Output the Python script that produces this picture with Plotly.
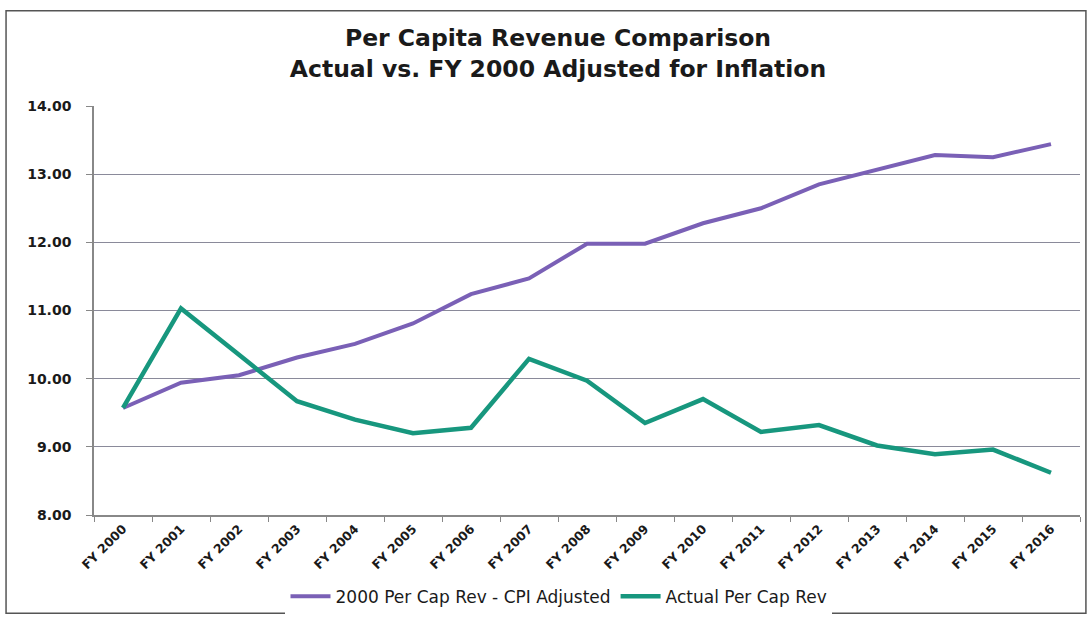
import plotly.graph_objects as go

years = ["FY 2000", "FY 2001", "FY 2002", "FY 2003", "FY 2004", "FY 2005", "FY 2006",
         "FY 2007", "FY 2008", "FY 2009", "FY 2010", "FY 2011", "FY 2012", "FY 2013",
         "FY 2014", "FY 2015", "FY 2016"]
cpi_adjusted = [9.57, 9.94, 10.05, 10.31, 10.51, 10.81, 11.24, 11.47, 11.98, 11.98,
                12.28, 12.50, 12.85, 13.06, 13.28, 13.25, 13.44]
actual = [9.57, 11.03, 10.35, 9.67, 9.40, 9.20, 9.28, 10.29, 9.97, 9.35,
          9.70, 9.22, 9.32, 9.02, 8.89, 8.96, 8.62]

PURPLE = "#7a60b6"
GREEN = "#17977e"
FONT = "DejaVu Sans"

fig = go.Figure()
fig.add_trace(go.Scatter(x=years, y=cpi_adjusted, mode="lines",
                         name="2000 Per Cap Rev - CPI Adjusted",
                         line=dict(color=PURPLE, width=4)))
fig.add_trace(go.Scatter(x=years, y=actual, mode="lines",
                         name="Actual Per Cap Rev",
                         line=dict(color=GREEN, width=4.5)))

fig.update_layout(
    width=1092, height=627,
    margin=dict(l=94, r=12, t=106, b=105),
    paper_bgcolor="white", plot_bgcolor="white",
    title=dict(text="Per Capita Revenue Comparison<br>Actual vs. FY 2000 Adjusted for Inflation",
               x=0.511, xanchor="center", xref="container",
               y=1 - 46 / 627, yanchor="middle", yref="container",
               font=dict(family=FONT, size=23.5, color="#1a1a1a", weight="bold")),
    showlegend=True,
    legend=dict(orientation="h", x=0.4716, xanchor="center", y=-0.1995, yanchor="middle",
                font=dict(family=FONT, size=17, color="#1a1a1a"),
                itemwidth=40, tracegroupgap=0),
    font=dict(family=FONT, color="#1a1a1a"),
)
fig.update_xaxes(type="category", range=[-0.5, 16.5], tickangle=-45, automargin=False,
                 tickson="boundaries", ticks="outside", ticklen=5, tickcolor="#888",
                 showline=True, linecolor="#888", linewidth=1.5, showgrid=False,
                 tickfont=dict(family=FONT, size=12.5, color="#1a1a1a", weight="bold"))
fig.update_yaxes(range=[8, 14], dtick=1, tickformat=".2f", automargin=False,
                 ticks="outside", ticklen=6, tickcolor="#888", ticklabelstandoff=12,
                 showline=True, linecolor="#888", linewidth=1.5,
                 showgrid=True, gridcolor="#8a8a9a", gridwidth=1, zeroline=False,
                 tickfont=dict(family=FONT, size=14, color="#1a1a1a", weight="bold"))

fig.add_shape(type="rect", xref="paper", yref="paper",
              x0=-0.0892, x1=1.006, y0=-0.240, y1=1.233,
              line=dict(color="#555", width=1.5), fillcolor="rgba(0,0,0,0)", layer="below")

fig.write_html("out.html")
